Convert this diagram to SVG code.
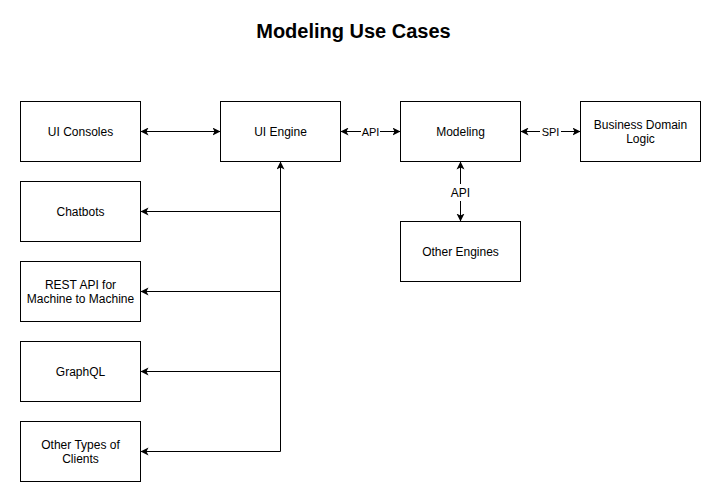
<svg xmlns="http://www.w3.org/2000/svg" width="721" height="502" viewBox="0 0 721 502">
<style>
.box{fill:#fff;stroke:#000;stroke-width:1}
.t{font-family:"Liberation Sans",Arial,sans-serif;font-size:12px;fill:#000;text-anchor:middle;dominant-baseline:central}
.e{fill:none;stroke:#000;stroke-width:1}
.lbl{font-family:"Liberation Sans",Arial,sans-serif;font-size:11px;fill:#000;text-anchor:middle;dominant-baseline:central}
.title{font-family:"Liberation Sans",Arial,sans-serif;font-size:20px;font-weight:bold;fill:#000;text-anchor:middle}
</style>
<defs>
<marker id="ae" markerUnits="userSpaceOnUse" markerWidth="10" markerHeight="10" refX="8" refY="4" orient="auto">
<path d="M0,0 L8,4 L0,8 L2,4 Z" fill="#000"/>
</marker>
<marker id="as" markerUnits="userSpaceOnUse" markerWidth="10" markerHeight="10" refX="0" refY="4" orient="auto">
<path d="M8,0 L0,4 L8,8 L6,4 Z" fill="#000"/>
</marker>
</defs>
<rect width="721" height="502" fill="#fff"/>
<text class="title" x="353.5" y="38">Modeling Use Cases</text>

<g id="connectors">
<line class="e" x1="140.5" y1="131.5" x2="220.5" y2="131.5" marker-start="url(#as)" marker-end="url(#ae)"/>
<line class="e" x1="340.5" y1="131.5" x2="400.5" y2="131.5" marker-start="url(#as)" marker-end="url(#ae)"/>
<rect x="361" y="124" width="19" height="14" fill="#fff"/>
<text class="lbl" x="370.5" y="131.5">API</text>
<line class="e" x1="520.5" y1="131.5" x2="580.5" y2="131.5" marker-start="url(#as)" marker-end="url(#ae)"/>
<rect x="540" y="124" width="21" height="14" fill="#fff"/>
<text class="lbl" x="550.5" y="131.5">SPI</text>
<line class="e" x1="460.5" y1="161.5" x2="460.5" y2="221.5" marker-start="url(#as)" marker-end="url(#ae)"/>
<rect x="450" y="184" width="21" height="17" fill="#fff"/>
<text class="t" x="460.5" y="192.5">API</text>
<polyline class="e" points="280.5,451.5 280.5,161.5" marker-end="url(#ae)"/>
<line class="e" x1="280.5" y1="211.5" x2="140.5" y2="211.5" marker-end="url(#ae)"/>
<line class="e" x1="280.5" y1="291.5" x2="140.5" y2="291.5" marker-end="url(#ae)"/>
<line class="e" x1="280.5" y1="371.5" x2="140.5" y2="371.5" marker-end="url(#ae)"/>
<line class="e" x1="280.5" y1="451.5" x2="140.5" y2="451.5" marker-end="url(#ae)"/>
</g>

<g id="ui-consoles"><rect class="box" x="20.5" y="101.5" width="120" height="60"/><text class="t" x="80.5" y="131.5">UI Consoles</text></g>
<g id="ui-engine"><rect class="box" x="220.5" y="101.5" width="120" height="60"/><text class="t" x="280.5" y="131.5">UI Engine</text></g>
<g id="modeling"><rect class="box" x="400.5" y="101.5" width="120" height="60"/><text class="t" x="460.5" y="131.5">Modeling</text></g>
<g id="business-domain-logic"><rect class="box" x="580.5" y="101.5" width="120" height="60"/><text class="t" x="640.5" y="124.5">Business Domain</text><text class="t" x="640.5" y="138.5">Logic</text></g>
<g id="other-engines"><rect class="box" x="400.5" y="221.5" width="120" height="60"/><text class="t" x="460.5" y="251.5">Other Engines</text></g>
<g id="chatbots"><rect class="box" x="20.5" y="181.5" width="120" height="60"/><text class="t" x="80.5" y="211.5">Chatbots</text></g>
<g id="rest-api"><rect class="box" x="20.5" y="261.5" width="120" height="60"/><text class="t" x="80.5" y="284.5">REST API for</text><text class="t" x="80.5" y="298.5">Machine to Machine</text></g>
<g id="graphql"><rect class="box" x="20.5" y="341.5" width="120" height="60"/><text class="t" x="80.5" y="371.5">GraphQL</text></g>
<g id="other-clients"><rect class="box" x="20.5" y="421.5" width="120" height="60"/><text class="t" x="80.5" y="444.5">Other Types of</text><text class="t" x="80.5" y="458.5">Clients</text></g>
</svg>
